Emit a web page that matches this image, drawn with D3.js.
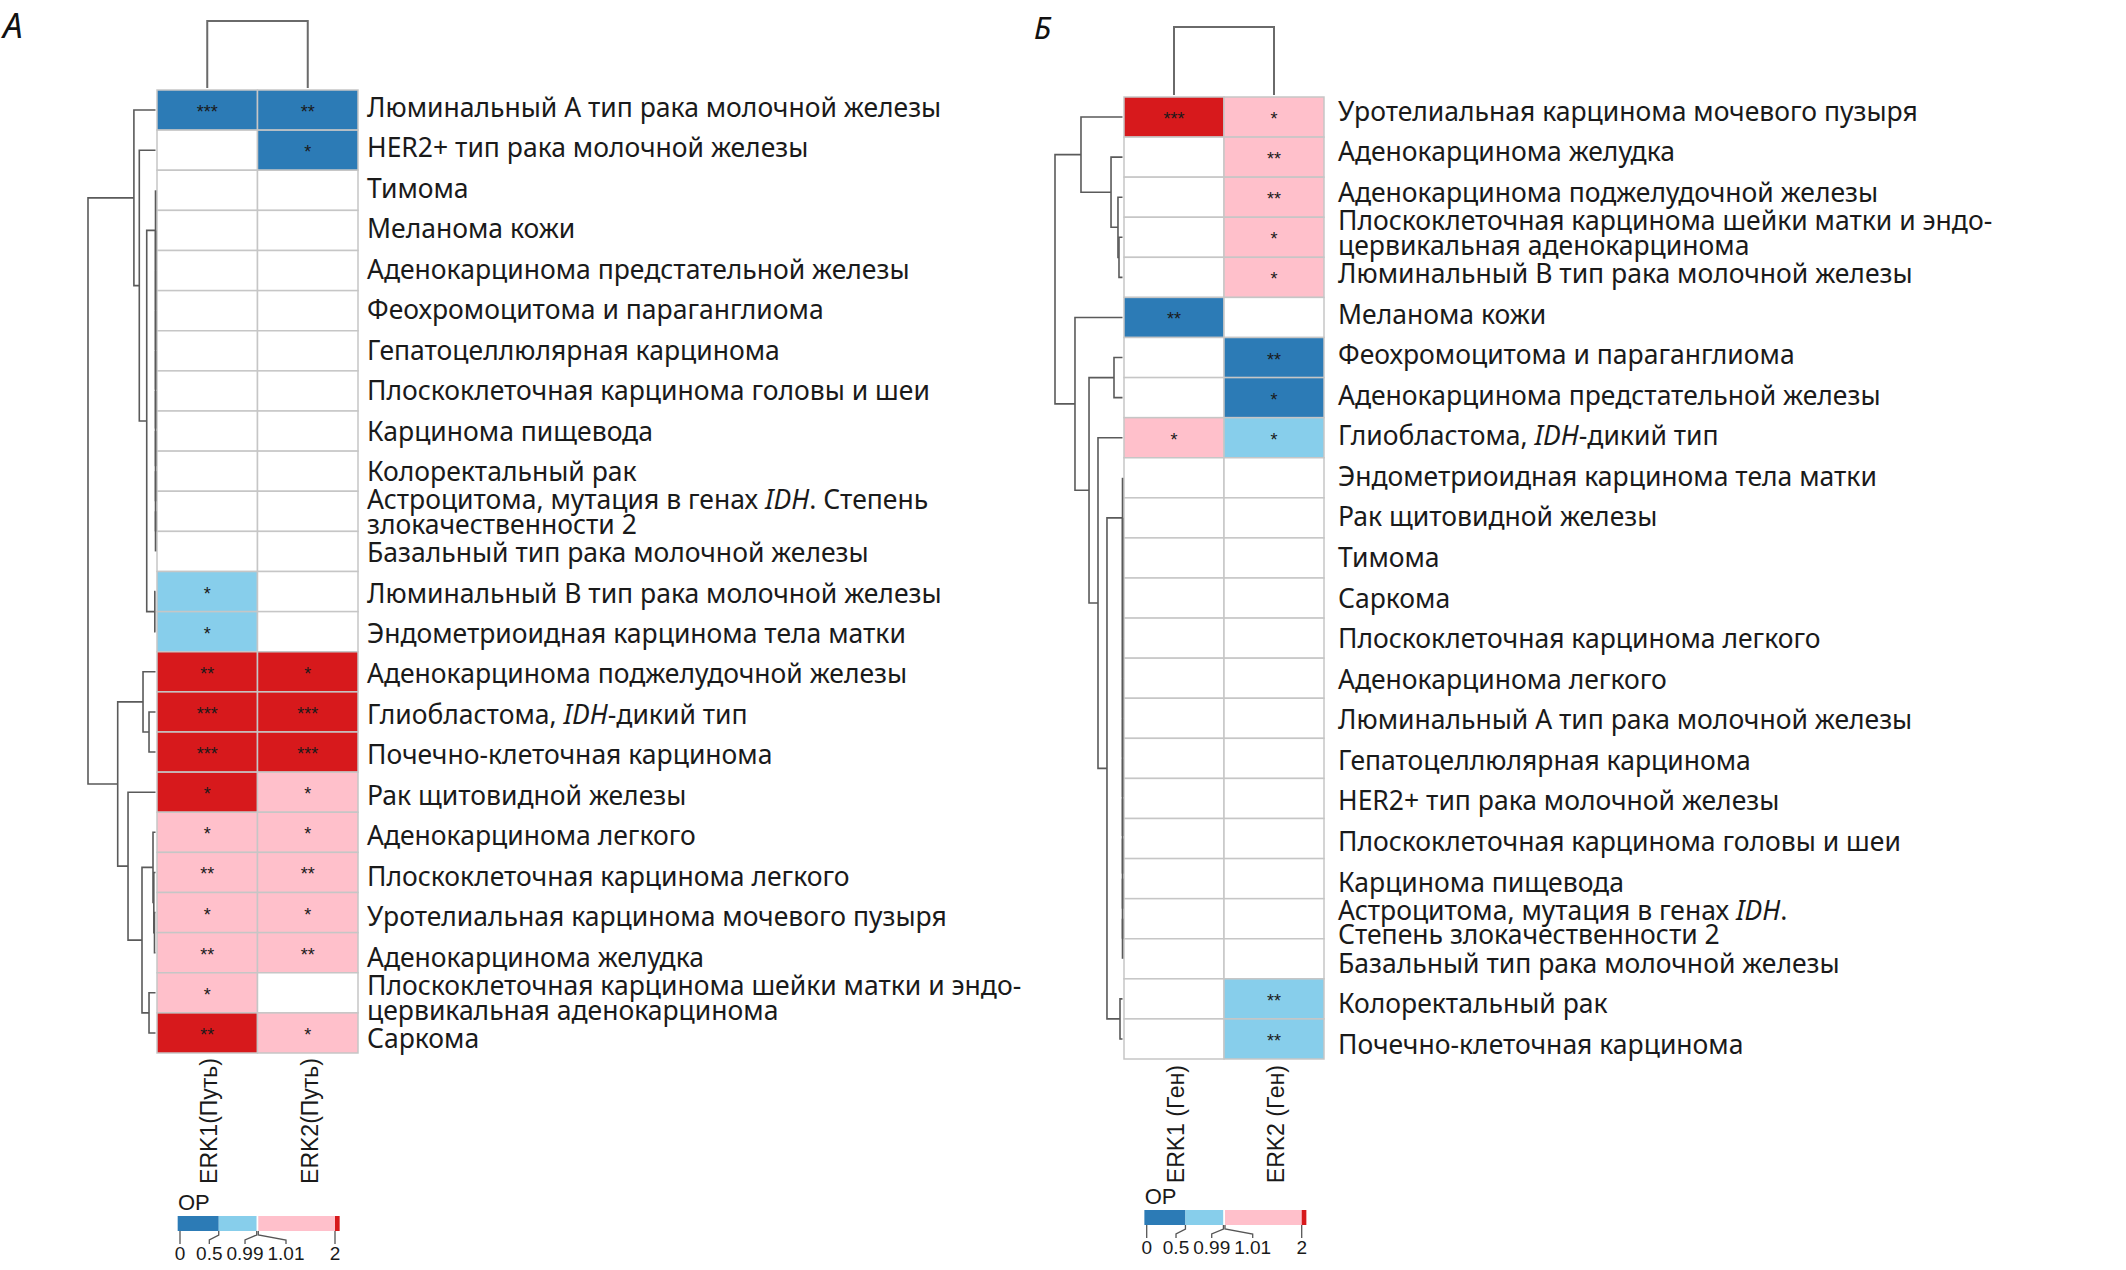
<!DOCTYPE html>
<html><head><meta charset="utf-8">
<script src="https://cdn.jsdelivr.net/npm/d3@7"></script>
<style>body{margin:0;background:#fff} svg{display:block}</style>
</head><body>
<svg id="chart" width="2126" height="1270"></svg>
<script>
// ---------- DATA ----------
const columnsA = ["ERK1(Путь)", "ERK2(Путь)"];
const rowsA = [
"Люминальный А тип рака молочной железы",
"HER2+ тип рака молочной железы",
"Тимома",
"Меланома кожи",
"Аденокарцинома предстательной железы",
"Феохромоцитома и параганглиома",
"Гепатоцеллюлярная карцинома",
"Плоскоклеточная карцинома головы и шеи",
"Карцинома пищевода",
"Колоректальный рак",
"Астроцитома, мутация в генах _IDH_. Степень\nзлокачественности 2",
"Базальный тип рака молочной железы",
"Люминальный B тип рака молочной железы",
"Эндометриоидная карцинома тела матки",
"Аденокарцинома поджелудочной железы",
"Глиобластома, _IDH_-дикий тип",
"Почечно-клеточная карцинома",
"Рак щитовидной железы",
"Аденокарцинома легкого",
"Плоскоклеточная карцинома легкого",
"Уротелиальная карцинома мочевого пузыря",
"Аденокарцинома желудка",
"Плоскоклеточная карцинома шейки матки и эндо-\nцервикальная аденокарцинома",
"Саркома"];
const orA1 = [0.3,1,1,1,1,1,1,1,1,1,1,1,0.7,0.7,2.4,2.6,2.5,2.2,1.4,1.5,1.4,1.5,1.3,2.3];
const orA2 = [0.35,0.4,1,1,1,1,1,1,1,1,1,1,1,1,2.1,2.5,2.6,1.6,1.4,1.5,1.4,1.5,1,1.6];
const starsA1 = ["***","","","","","","","","","","","","*","*","**","***","***","*","*","**","*","**","*","**"];
const starsA2 = ["**","*","","","","","","","","","","","","","*","***","***","*","*","**","*","**","","*"];
// row dendrogram: [mergeHeight, left, right]; numbers = leaf (row) index
const treeA = [100,
  [32, 0, [24, 1, [13,
     [0, 2, [0, 3, [0, 4, [0, 5, [0, 6, [0, 7, [0, 8, [0, 9, [0, 10, 11]]]]]]]]],
     [1, 12, 13]]]],
  [56, [18.5, 14, [9.6, 15, 16]],
       [40.7, 17, [20, [3.7, 18, [2.5, 19, [1.5, 20, 21]]], [9.6, 22, 23]]]]];
const colTreeA = [1, 0, 1];

const columnsB = ["ERK1 (Ген)", "ERK2 (Ген)"];
const rowsB = [
"Уротелиальная карцинома мочевого пузыря",
"Аденокарцинома желудка",
"Аденокарцинома поджелудочной железы",
"Плоскоклеточная карцинома шейки матки и эндо-\nцервикальная аденокарцинома",
"Люминальный B тип рака молочной железы",
"Меланома кожи",
"Феохромоцитома и параганглиома",
"Аденокарцинома предстательной железы",
"Глиобластома, _IDH_-дикий тип",
"Эндометриоидная карцинома тела матки",
"Рак щитовидной железы",
"Тимома",
"Саркома",
"Плоскоклеточная карцинома легкого",
"Аденокарцинома легкого",
"Люминальный А тип рака молочной железы",
"Гепатоцеллюлярная карцинома",
"HER2+ тип рака молочной железы",
"Плоскоклеточная карцинома головы и шеи",
"Карцинома пищевода",
"Астроцитома, мутация в генах _IDH_.\nСтепень злокачественности 2",
"Базальный тип рака молочной железы",
"Колоректальный рак",
"Почечно-клеточная карцинома"];
const orB1 = [2.4,1,1,1,1,0.4,1,1,1.4,1,1,1,1,1,1,1,1,1,1,1,1,1,1,1];
const orB2 = [1.4,1.5,1.5,1.3,1.3,1,0.4,0.4,0.7,1,1,1,1,1,1,1,1,1,1,1,1,1,0.7,0.7];
const starsB1 = ["***","","","","","**","","","*","","","","","","","","","","","","","","",""];
const starsB2 = ["*","**","**","*","*","","**","*","*","","","","","","","","","","","","","","**","**"];
const treeB = [100,
  [61.5, 0, [17, 1, [6.7, 2, [5.2, 3, 4]]]],
  [70.4, 5, [49.6, [12.6, 6, 7], [36.3, 8, [23,
     [0, 9, [0, 10, [0, 11, [0, 12, [0, 13, [0, 14, [0, 15, [0, 16, [0, 17, [0, 18, [0, 19, [0, 20, 21]]]]]]]]]]]],
     [3.7, 22, 23]]]]]];
const colTreeB = [1, 0, 1];

const legendBreaks = [0.5, 0.99, 1.01, 2];
const legendColors = ["#2c7bb6", "#87ceeb", "#ffffff", "#ffc0cb", "#d7191c"];
const legendTickValues = [0, 0.5, 0.99, 1.01, 2];
const legendTickLabels = ["0", "0.5", "0.99", "1.01", "2"];
const legendMin = -0.03, legendMax = 2.06;
const legendTitle = "ОР";

// ---------- DRAWING ----------
const svg = d3.select("#chart");
const FONT = "'Noto Sans', 'DejaVu Sans', sans-serif";
const ARIAL = "'Liberation Sans', Arial, sans-serif";
const color = d3.scaleThreshold().domain(legendBreaks).range(legendColors);
const LABEL_SIZE = 26.5;

function drawPanel(c) {
  const g = svg.append("g");
  const n = c.rows.length;
  const y = d3.scaleBand().domain(d3.range(n)).range([c.top, c.bottom]);
  const yl = d3.scaleBand().domain(d3.range(n)).range([c.top + c.labTopShift, c.bottom + c.labBottomShift]);
  const x = d3.scaleBand().domain(d3.range(c.cols.length)).range([c.left, c.right]);
  const yc = i => y(i) + y.bandwidth() / 2;
  const ylc = i => yl(i) + yl.bandwidth() / 2;
  const xc = j => x(j) + x.bandwidth() / 2;

  // panel letter
  g.append("text").attr("x", c.letterX).attr("y", c.letterY)
    .attr("font-family", FONT).attr("font-style", "italic").attr("font-size", c.letterSize)
    .attr("fill", "#111").text(c.letter);

  // cells
  const cells = [];
  c.rows.forEach((r, i) => {
    cells.push({i, j: 0, v: c.v1[i], s: c.s1[i]});
    cells.push({i, j: 1, v: c.v2[i], s: c.s2[i]});
  });
  g.selectAll("rect.cell").data(cells).join("rect")
    .attr("x", d => x(d.j)).attr("y", d => y(d.i))
    .attr("width", x.bandwidth()).attr("height", y.bandwidth())
    .attr("fill", d => color(d.v))
    .attr("stroke", "#c6c6c6").attr("stroke-width", 1.5);
  g.selectAll("text.star").data(cells.filter(d => d.s)).join("text")
    .attr("x", d => xc(d.j)).attr("y", d => yc(d.i) + 8)
    .attr("text-anchor", "middle").attr("font-family", ARIAL)
    .attr("font-size", 18).attr("fill", "#1a1a1a").text(d => d.s);

  // row labels
  c.rows.forEach((name, i) => {
    const lines = name.split("\n");
    const t = g.append("text").attr("font-family", FONT).attr("font-size", LABEL_SIZE)
      .attr("fill", "#1a1a1a");
    lines.forEach((line, k) => {
      const dy = (k - (lines.length - 1) / 2) * 24.5;
      line.split("_").forEach((p, m) => {
        const ts = t.append("tspan").text(p);
        if (m % 2) ts.attr("font-style", "italic");
        if (m === 0) ts.attr("x", c.labelX).attr("y", ylc(i) + dy + LABEL_SIZE * 0.36);
      });
    });
  });

  // column labels
  c.cols.forEach((name, j) => {
    g.append("text")
      .attr("transform", `translate(${xc(j) + 2},${c.colLabelY}) rotate(-90)`)
      .attr("text-anchor", "end").attr("dominant-baseline", "central")
      .attr("font-family", ARIAL).attr("font-size", 23).attr("fill", "#1a1a1a")
      .text(name);
  });

  // row dendrogram
  const hx = d3.scaleLinear().domain([0, 100]).range([c.dendRight, c.dendLeft]);
  const segs = [];
  (function lay(node) {
    if (typeof node === "number") return {pos: yc(node), h: 0};
    const [h, a, b] = node;
    const L = lay(a), R = lay(b);
    segs.push({h, L, R});
    return {pos: (L.pos + R.pos) / 2, h};
  })(c.tree);
  g.selectAll("path.rd").data(segs).join("path")
    .attr("d", s => `M${hx(s.L.h)},${s.L.pos}H${hx(s.h)}V${s.R.pos}H${hx(s.R.h)}`)
    .attr("fill", "none").attr("stroke", "#5a5a5a").attr("stroke-width", 1.6);

  // column dendrogram
  const hy = d3.scaleLinear().domain([0, 1]).range([c.colDendBottom, c.colDendTop]);
  const csegs = [];
  (function lay(node) {
    if (typeof node === "number") return {pos: xc(node), h: 0};
    const [h, a, b] = node;
    const L = lay(a), R = lay(b);
    csegs.push({h, L, R});
    return {pos: (L.pos + R.pos) / 2, h};
  })(c.colTree);
  g.selectAll("path.cd").data(csegs).join("path")
    .attr("d", s => `M${s.L.pos},${hy(s.L.h)}V${hy(s.h)}H${s.R.pos}V${hy(s.R.h)}`)
    .attr("fill", "none").attr("stroke", "#6a6a6a").attr("stroke-width", 2);

  // legend
  const lx = d3.scaleLinear().domain([0, 2]).range([c.legX0, c.legX2]);
  const edges = [legendMin, ...legendBreaks, legendMax];
  g.append("text").attr("x", c.legX0 - 2).attr("y", c.legTop - 6)
    .attr("font-family", ARIAL).attr("font-size", 22).attr("fill", "#1a1a1a").text(legendTitle);
  g.selectAll("rect.leg").data(legendColors).join("rect")
    .attr("x", (d, k) => lx(edges[k])).attr("y", c.legTop)
    .attr("width", (d, k) => lx(edges[k + 1]) - lx(edges[k])).attr("height", 15)
    .attr("fill", d => d);
  const bottomY = c.legTop + 15;
  const labels = legendTickLabels.map((t, k) => {
    const el = g.append("text").attr("y", bottomY + 29).attr("text-anchor", "middle")
      .attr("font-family", ARIAL).attr("font-size", 19).attr("fill", "#1a1a1a").text(t);
    return {el, x0: lx(legendTickValues[k]), w: el.node().getComputedTextLength()};
  });
  // simple 1-D label repel (width-weighted cluster centres)
  let clusters = labels.map(l => ({items: [l]}));
  const pad = 4;
  const place = cl => {
    const tw = d3.sum(cl.items, d => d.w) + pad * (cl.items.length - 1);
    const cen = d3.sum(cl.items, d => d.w * d.x0) / d3.sum(cl.items, d => d.w) + (cl.items.length > 1 ? 3 : 0);
    let s = cen - tw / 2;
    cl.items.forEach(d => { d.x = s + d.w / 2; s += d.w + pad; });
    cl.l = cen - tw / 2; cl.r = cen + tw / 2;
  };
  clusters.forEach(place);
  let merged = true;
  while (merged) {
    merged = false;
    for (let k = 0; k < clusters.length - 1; k++) {
      if (clusters[k].r + pad > clusters[k + 1].l) {
        clusters[k] = {items: clusters[k].items.concat(clusters[k + 1].items)};
        clusters.splice(k + 1, 1); place(clusters[k]); merged = true; break;
      }
    }
  }
  labels.forEach(l => {
    l.el.attr("x", l.x);
    g.append("path")
      .attr("d", `M${l.x0},${bottomY}V${bottomY + 4}L${l.x},${bottomY + 9}V${bottomY + 13}`)
      .attr("fill", "none").attr("stroke", "#555").attr("stroke-width", 1.3);
  });
}

drawPanel({letter: "А", letterX: 3, letterY: 38, letterSize: 35,
  rows: rowsA, cols: columnsA, v1: orA1, v2: orA2, s1: starsA1, s2: starsA2,
  tree: treeA, colTree: colTreeA,
  left: 157, right: 358, top: 90, bottom: 1053, labTopShift: -3, labBottomShift: 5.5,
  dendLeft: 88, dendRight: 155.5, colDendTop: 21, colDendBottom: 88,
  labelX: 367, colLabelY: 1058,
  legX0: 180, legX2: 335, legTop: 1216});

drawPanel({letter: "Б", letterX: 1034, letterY: 39, letterSize: 31,
  rows: rowsB, cols: columnsB, v1: orB1, v2: orB2, s1: starsB1, s2: starsB2,
  tree: treeB, colTree: colTreeB,
  left: 1124, right: 1324, top: 97, bottom: 1059, labTopShift: -6, labBottomShift: 5.5,
  dendLeft: 1055, dendRight: 1122.5, colDendTop: 27, colDendBottom: 95,
  labelX: 1338, colLabelY: 1065,
  legX0: 1146.7, legX2: 1301.7, legTop: 1210});
</script>
</body></html>
